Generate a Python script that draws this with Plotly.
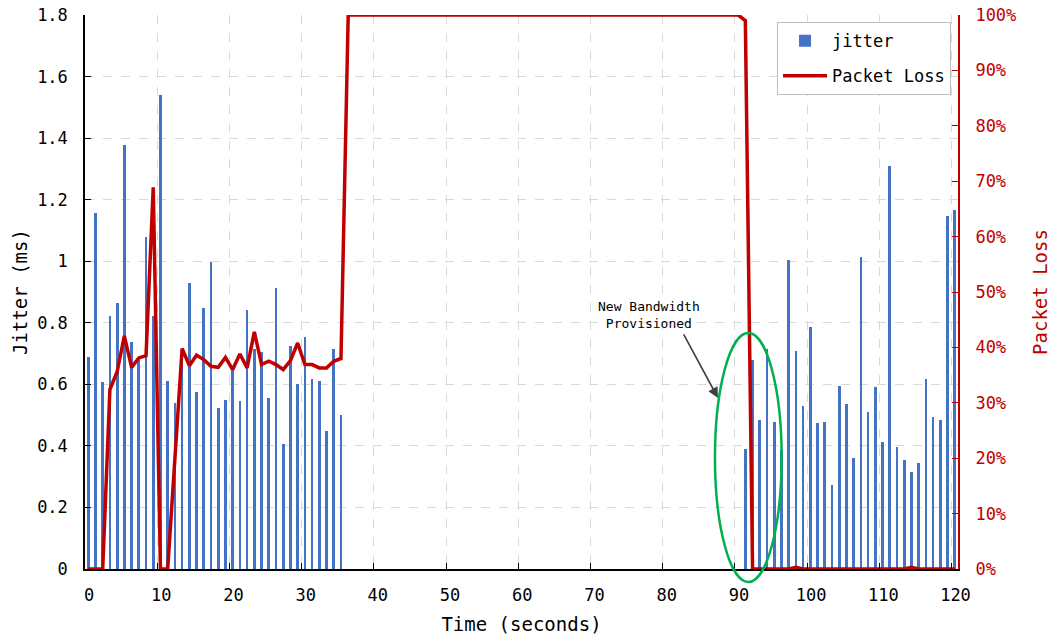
import plotly.graph_objects as go

# ---- data ----
time_s = [round(0.45 + i, 2) for i in range(121)]

jitter_ms = [
    0.69, 1.156, 0.607, 0.822, 0.863, 1.377, 0.739, 0.69, 1.079, 0.822,
    1.541, 0.611, 0.54, 0.668, 0.93, 0.576, 0.847, 0.996, 0.524, 0.549,
    0.647, 0.545, 0.841, 0.714, 0.705, 0.554, 0.914, 0.406, 0.724, 0.601,
    0.755, 0.617, 0.611, 0.447, 0.714, 0.499,
    0, 0, 0, 0, 0, 0, 0, 0, 0, 0,
    0, 0, 0, 0, 0, 0, 0, 0, 0, 0,
    0, 0, 0, 0, 0, 0, 0, 0, 0, 0,
    0, 0, 0, 0, 0, 0, 0, 0, 0, 0,
    0, 0, 0, 0, 0, 0, 0, 0, 0, 0,
    0, 0, 0, 0, 0,
    0.39, 0.679, 0.484, 0.715, 0.479, 0.387, 1.005, 0.709, 0.53, 0.785,
    0.473, 0.478, 0.273, 0.596, 0.535, 0.36, 1.013, 0.509, 0.591, 0.412,
    1.31, 0.396, 0.354, 0.314, 0.344, 0.617, 0.494, 0.483, 1.146, 1.165,
]

packet_loss_pct = [
    0, 0, 0, 32.4, 35.6, 42.1, 36.4, 38.1, 38.5, 68.9,
    0, 0, 20.0, 39.8, 36.7, 38.6, 37.8, 36.6, 36.4, 38.2,
    36.0, 38.8, 36.3, 42.8, 36.9, 37.5, 36.9, 36.0, 37.6, 40.8,
    36.9, 36.9, 36.3, 36.3, 37.5, 38.0,
    100, 100, 100, 100, 100, 100, 100, 100, 100, 100,
    100, 100, 100, 100, 100, 100, 100, 100, 100, 100,
    100, 100, 100, 100, 100, 100, 100, 100, 100, 100,
    100, 100, 100, 100, 100, 100, 100, 100, 100, 100,
    100, 100, 100, 100, 100, 100, 100, 100, 100, 100,
    100, 100, 100, 100, 100,
    99.0, 0, 0, 0, 0, 0, 0, 0.3, 0, 0,
    0, 0, 0, 0, 0, 0, 0, 0, 0, 0,
    0, 0, 0, 0.3, 0, 0, 0, 0, 0, 0,
]

x_ticks = [0, 10, 20, 30, 40, 50, 60, 70, 80, 90, 100, 110, 120]

FONT = "DejaVu Sans Mono"
BLUE = "#4472C4"
RED = "#C00000"
GRID = "#d9d9d9"

fig = go.Figure()
fig.add_trace(go.Bar(
    x=time_s, y=jitter_ms, name="jitter", width=0.38,
    marker=dict(color=BLUE, line=dict(width=0)),
    legendgroup="a",
))
fig.add_trace(go.Scatter(
    x=time_s, y=packet_loss_pct, name="Packet Loss", yaxis="y2",
    mode="lines", line=dict(color=RED, width=3.5),
    legendgroup="b",
))

fig.update_layout(
    width=1051, height=639,
    margin=dict(l=85, r=93, t=15, b=70, autoexpand=False),
    paper_bgcolor="white", plot_bgcolor="white",
    font=dict(family=FONT, size=17, color="black"),
    bargap=0,
    showlegend=True,
    legend=dict(
        x=0.7927, y=0.987, xanchor="left", yanchor="top",
        bgcolor="white", bordercolor="#bfbfbf", borderwidth=1,
        font=dict(family=FONT, size=17, color="black"),
        tracegroupgap=10, itemwidth=44,
    ),
    xaxis=dict(
        range=[0, 120.9], tickvals=x_ticks, automargin=False,
        ticks="inside", ticklen=6, tickcolor="black",
        showline=True, linecolor="black", linewidth=1.5,
        showgrid=True, gridcolor=GRID, griddash="dash", gridwidth=1,
        zeroline=False,
        ticklabelshift=4, ticklabelstandoff=10,
        title=dict(text="Time (seconds)", font=dict(size=19), standoff=14),
    ),
    yaxis=dict(
        range=[0, 1.8], dtick=0.2, automargin=False,
        ticks="inside", ticklen=6, tickcolor="black",
        showline=True, linecolor="black", linewidth=1.5,
        showgrid=True, gridcolor=GRID, griddash="dash", gridwidth=1,
        zeroline=False,
        ticklabelstandoff=12,
        title=dict(text="Jitter (ms)", font=dict(size=19), standoff=4),
    ),
    yaxis2=dict(
        overlaying="y", side="right", automargin=False,
        range=[0, 100], dtick=10, ticksuffix="%",
        ticks="inside", ticklen=6, tickcolor=RED,
        showline=True, linecolor=RED, linewidth=2,
        showgrid=False, zeroline=False,
        tickfont=dict(color=RED),
        ticklabelstandoff=12,
        title=dict(text="Packet Loss", font=dict(size=19, color=RED), standoff=18),
    ),
)

# annotation text
fig.add_annotation(
    x=78.1, y=0.825, xref="x", yref="y",
    text="New Bandwidth<br>Provisioned", showarrow=False,
    font=dict(family=FONT, size=13, color="black"),
    align="center",
)
# arrow
fig.add_annotation(
    x=87.65, y=0.556, xref="x", yref="y",
    ax=82.8, ay=0.767, axref="x", ayref="y",
    text="", showarrow=True, arrowhead=2, arrowsize=1.3,
    arrowwidth=1.6, arrowcolor="#404040",
)
# ellipse
fig.add_shape(
    type="circle", xref="paper", yref="paper",
    x0=0.7216, x1=0.798, y0=-0.0235, y1=0.426,
    line=dict(color="#00B050", width=2.5),
    layer="above",
)

fig.write_html("out.html")
